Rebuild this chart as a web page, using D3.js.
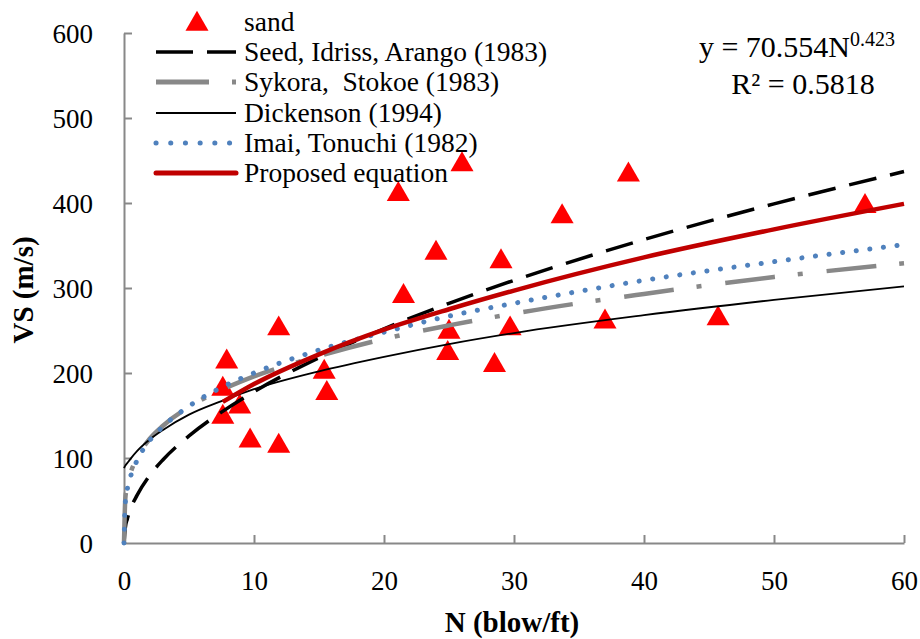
<!DOCTYPE html>
<html>
<head>
<meta charset="utf-8">
<script src="https://cdn.jsdelivr.net/npm/d3@7"></script>
<style>
  body { margin: 0; background: #fff; }
  svg text { fill: #000; }
</style>
</head>
<body>
<div id="chart"></div>
<script>
// sand points
var sandN  = [11.9, 7.9, 7.6, 8.9, 7.6, 9.7, 11.9, 15.4, 15.6, 26.0, 21.1, 24.0, 29.0, 21.5, 25.0, 29.7, 24.9, 28.5, 38.8, 33.7, 37.0, 45.7, 57.0]
var sandVs = [256, 217, 185, 164, 152, 124, 118, 205, 180, 449, 414, 345, 335, 294, 252, 256, 227, 213, 437, 388, 264, 268, 400]

// curves, values
var curveN      = [0, 0.1, 0.25, 0.5, 1, 2, 3, 5, 7.5, 10, 15, 20, 25, 30, 40, 50, 60]
var seedVs      = [0, 18, 28, 40, 56, 80, 98, 126, 154, 178, 218, 252, 282, 309, 357, 399, 437]
var sykoraVs    = [0, 52, 67, 82, 100, 123, 138, 160, 180, 196, 220, 240, 256, 270, 293, 313, 329]
var dickensonVs = [88, 91, 94, 99, 108, 122, 133, 151, 167, 181, 202, 219, 234, 247, 268, 286, 302]
var imaiVs      = [0, 47, 63, 78, 97, 121, 137, 161, 183, 200, 227, 248, 267, 282, 309, 331, 351]
var proposedN   = [7.6, 10, 15, 20, 25, 30, 40, 50, 60]
var proposedVs  = [166, 187, 222, 251, 275, 297, 336, 369, 399]

var xTicks = [0, 10, 20, 30, 40, 50, 60]
var yTicks = [0, 100, 200, 300, 400, 500, 600]

var legendNames = ['sand', 'Seed, Idriss, Arango (1983)', 'Sykora,  Stokoe (1983)', 'Dickenson (1994)', 'Imai, Tonuchi (1982)', 'Proposed equation']

// text is set at 34px and scaled down to the wanted size
var serif = '"Liberation Serif", "Times New Roman", serif'
var BASE = 34
function label(parent, x, y, size, str, anchor, extra){
  var k = size / BASE
  return parent.append('text')
    .attr('transform', 'translate(' + x + ',' + y + ')' + (extra || '') + ' scale(' + k + ')')
    .attr('font-size', BASE).style('font-family', serif).style('white-space', 'pre')
    .attr('text-anchor', anchor || 'start')
    .text(str)
}

var width = 920, height = 639
var svg = d3.select('#chart').append('svg').attr('width', width).attr('height', height)

var x = d3.scaleLinear().domain([0, 60]).range([124, 904])
var y = d3.scaleLinear().domain([0, 600]).range([543, 33])

// axes
var tickSize = 27, tk = tickSize / BASE
var xAxis = d3.axisBottom(x).tickValues(xTicks).tickSizeInner(-8).tickSizeOuter(0).tickPadding(28)
var yAxis = d3.axisLeft(y).tickValues(yTicks).tickSizeInner(-8).tickSizeOuter(0).tickPadding(31)

var gx = svg.append('g').attr('transform', 'translate(0,' + y(0) + ')').call(xAxis)
var gy = svg.append('g').attr('transform', 'translate(' + x(0) + ',0)').call(yAxis)
gx.selectAll('.tick text').attr('font-size', BASE).style('font-family', serif)
  .attr('y', 28 / tk).attr('transform', 'scale(' + tk + ')')
gy.selectAll('.tick text').attr('font-size', BASE).style('font-family', serif)
  .attr('x', -31 / tk).attr('dy', '0.36em').attr('transform', 'scale(' + tk + ')')
svg.selectAll('.domain, .tick line').attr('stroke', '#888').attr('stroke-width', 2)
gx.selectAll('.tick').filter(function(d){ return d === 0 }).select('line').remove()
gy.selectAll('.tick').filter(function(d){ return d === 0 }).select('line').remove()

// axis titles
label(svg, 512, 632, 29, 'N (blow/ft)', 'middle').attr('font-weight', 'bold')
label(svg, 33, 290, 29, 'VS (m/s)', 'middle', ' rotate(-90)').attr('font-weight', 'bold')

// sand triangles
var tri = d3.symbol().type(d3.symbolTriangle).size(230)
svg.append('g').selectAll('path').data(sandN).enter().append('path')
  .attr('d', tri)
  .attr('fill', '#ff0000')
  .attr('transform', function(d, i){ return 'translate(' + x(d) + ',' + (y(sandVs[i]) + 3.3) + ')' })

var line = d3.line().x(function(d){ return x(d[0]) }).y(function(d){ return y(d[1]) }).curve(d3.curveMonotoneX)
function pairs(ns, vs){ return ns.map(function(n, i){ return [n, vs[i]] }) }

var styles = [
  {vals: pairs(curveN, seedVs), stroke: '#000', w: 3.5, dash: '28 14', cap: 'butt'},
  {vals: pairs(curveN, sykoraVs), stroke: '#888', w: 4.5, dash: '50 23 5 24', cap: 'butt'},
  {vals: pairs(curveN, dickensonVs), stroke: '#000', w: 1.8, dash: null, cap: 'butt'},
  {vals: pairs(curveN, imaiVs), stroke: '#4f81bd', w: 5, dash: '0.1 13.6', cap: 'round'},
  {vals: pairs(proposedN, proposedVs), stroke: '#c00000', w: 4.5, dash: null, cap: 'butt'}
]
styles.forEach(function(s){
  svg.append('path').datum(s.vals).attr('d', line).attr('fill', 'none')
    .attr('stroke', s.stroke).attr('stroke-width', s.w)
    .attr('stroke-dasharray', s.dash).attr('stroke-linecap', s.cap)
})

// legend
var legY = [22, 52, 82, 113, 143, 173]
var lg = svg.append('g')
lg.append('path').attr('d', tri).attr('fill', '#ff0000').attr('transform', 'translate(197,' + (legY[0] + 2) + ')')
var legStyles = [
  {stroke: '#000', w: 3.5, dash: '37 14 31', cap: 'butt'},
  {stroke: '#888', w: 5, dash: '53 23 5 30', cap: 'butt'},
  {stroke: '#000', w: 1.8, dash: null, cap: 'butt'},
  {stroke: '#4f81bd', w: 5, dash: '0.1 14.6', cap: 'round'},
  {stroke: '#c00000', w: 5, dash: null, cap: 'round'}
]
legStyles.forEach(function(s, i){
  lg.append('line').attr('x1', 156).attr('x2', 236).attr('y1', legY[i + 1]).attr('y2', legY[i + 1])
    .attr('stroke', s.stroke).attr('stroke-width', s.w)
    .attr('stroke-dasharray', s.dash).attr('stroke-linecap', s.cap)
})
legendNames.forEach(function(name, i){
  label(lg, 244, legY[i] + 9, 27.5, name)
})

// fitted equation
label(svg, 850, 57, 30, 'y = 70.554N', 'end')
label(svg, 850, 46, 20, '0.423', 'start')
label(svg, 803, 94, 30, 'R² = 0.5818', 'middle')
</script>
</body>
</html>
